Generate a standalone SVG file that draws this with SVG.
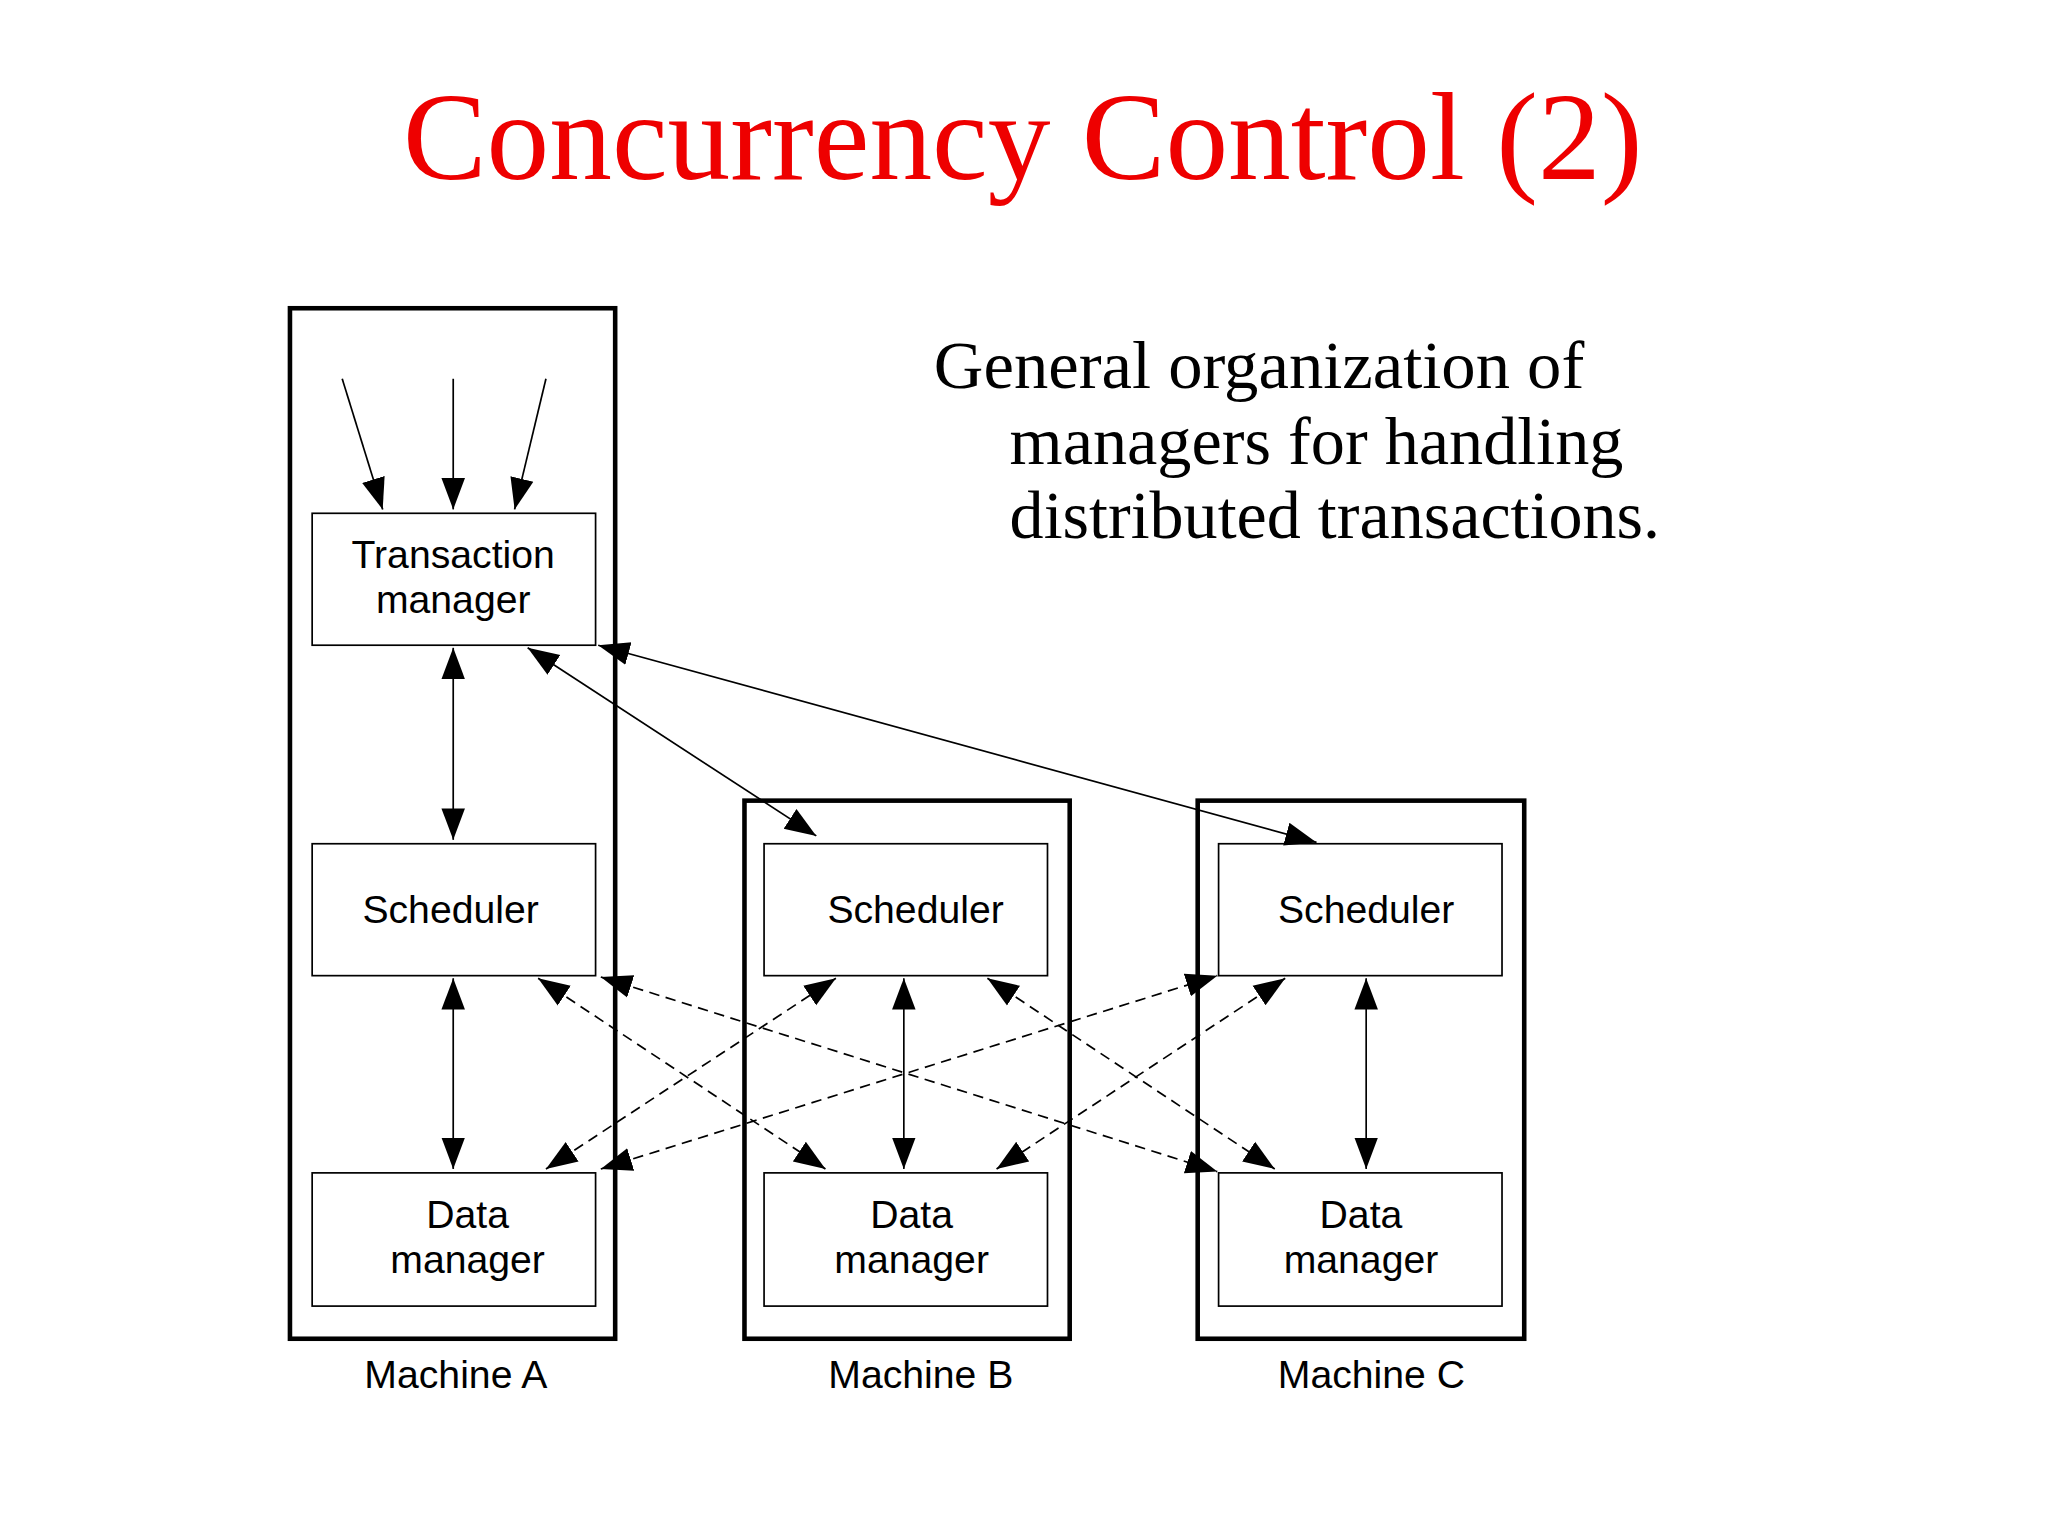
<svg xmlns="http://www.w3.org/2000/svg" width="2048" height="1536" viewBox="0 0 2048 1536">
<defs>
<marker id="ah" markerUnits="userSpaceOnUse" markerWidth="26" markerHeight="20" refX="24" refY="9" orient="auto-start-reverse" viewBox="0 0 26 18"><path d="M0,0 L24,9 L0,18 Z" fill="#000"/></marker>
<style>
.mach{fill:none;stroke:#000;stroke-width:3.5}
.box{fill:#fff;stroke:#000;stroke-width:1.3}
.t{font-family:"Liberation Sans",Arial,sans-serif;font-size:30px;text-anchor:middle;fill:#000}
.c{stroke:#000;stroke-width:1.3;fill:none;marker-start:url(#ah);marker-end:url(#ah)}
.d{stroke-dasharray:8,5}
.s{stroke:#000;stroke-width:1.3;fill:none;marker-end:url(#ah)}
</style>
</defs>
<rect width="2048" height="1536" fill="#fff"/>
<g transform="scale(1.3061)">
<text x="783" y="137" font-family="Liberation Serif,serif" font-size="96" fill="#ee0000" text-anchor="middle">Concurrency Control (2)</text>
<g font-family="Liberation Serif,serif" font-size="52" fill="#000">
<text x="715" y="297" textLength="498" lengthAdjust="spacingAndGlyphs">General organization of</text>
<text x="773" y="355" textLength="470" lengthAdjust="spacingAndGlyphs">managers for handling</text>
<text x="773" y="412" textLength="498" lengthAdjust="spacingAndGlyphs">distributed transactions.</text>
</g>
<g id="machineA"><rect class="mach" x="222" y="236" width="249" height="789"/><text class="t" x="349" y="1063">Machine A</text></g>
<g id="machineB"><rect class="mach" x="570" y="613" width="249" height="412"/><text class="t" x="705" y="1063">Machine B</text></g>
<g id="machineC"><rect class="mach" x="917" y="613" width="250" height="412"/><text class="t" x="1050" y="1063">Machine C</text></g>
<g id="tmA"><rect class="box" x="239" y="393" width="217" height="101"/><text class="t" x="347" y="435">Transaction</text><text class="t" x="347" y="469">manager</text></g>
<g id="schA"><rect class="box" x="239" y="646" width="217" height="101"/><text class="t" x="345" y="707">Scheduler</text></g>
<g id="dmA"><rect class="box" x="239" y="898" width="217" height="102"/><text class="t" x="358" y="940">Data</text><text class="t" x="358" y="975">manager</text></g>
<g id="schB"><rect class="box" x="585" y="646" width="217" height="101"/><text class="t" x="701" y="707">Scheduler</text></g>
<g id="dmB"><rect class="box" x="585" y="898" width="217" height="102"/><text class="t" x="698" y="940">Data</text><text class="t" x="698" y="975">manager</text></g>
<g id="schC"><rect class="box" x="933" y="646" width="217" height="101"/><text class="t" x="1046" y="707">Scheduler</text></g>
<g id="dmC"><rect class="box" x="933" y="898" width="217" height="102"/><text class="t" x="1042" y="940">Data</text><text class="t" x="1042" y="975">manager</text></g>
<g id="connectors">
<line class="s" x1="262" y1="290" x2="293" y2="390"/>
<line class="s" x1="347" y1="290" x2="347" y2="390"/>
<line class="s" x1="418" y1="290" x2="394" y2="390"/>
<line class="c" x1="347" y1="496" x2="347" y2="643"/>
<line class="c" x1="404" y1="496" x2="625" y2="640"/>
<line class="c" x1="458" y1="494" x2="1008" y2="645"/>
<line class="c" x1="347" y1="749" x2="347" y2="895"/>
<line class="c" x1="692" y1="749" x2="692" y2="895"/>
<line class="c" x1="1046" y1="749" x2="1046" y2="895"/>
<line class="c d" x1="412" y1="749" x2="632" y2="895"/>
<line class="c d" x1="460" y1="748" x2="932" y2="897"/>
<line class="c d" x1="418" y1="895" x2="640" y2="749"/>
<line class="c d" x1="460" y1="895" x2="932" y2="747"/>
<line class="c d" x1="756" y1="749" x2="976" y2="895"/>
<line class="c d" x1="984" y1="749" x2="763" y2="895"/>
</g>
</g>
</svg>
